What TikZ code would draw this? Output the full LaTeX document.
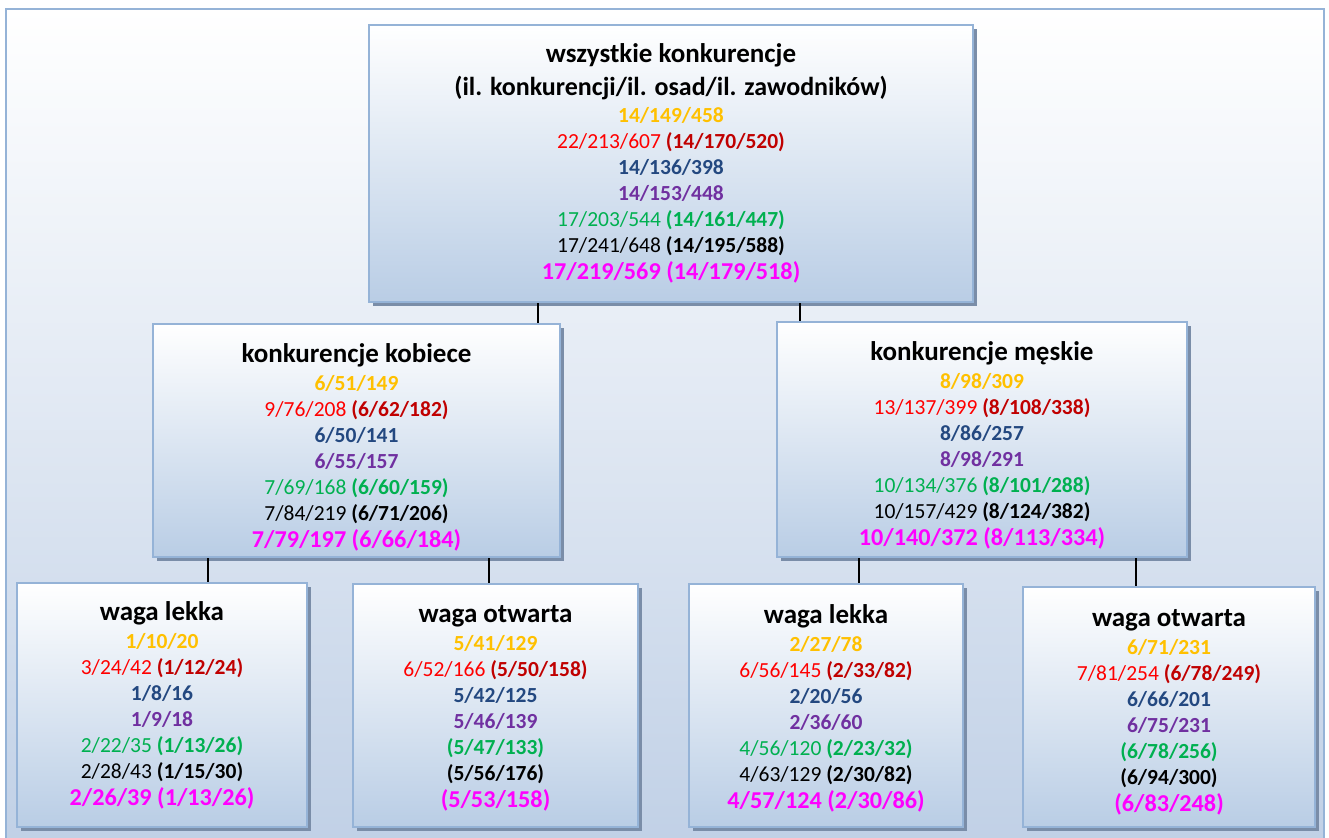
\documentclass[tikz,border=0pt]{standalone}
\usepackage{fontspec}
\setmainfont{Carlito}
\usepackage{xcolor}
\usetikzlibrary{shadows}

\definecolor{gold}{RGB}{255,192,0}
\definecolor{lightred}{RGB}{255,0,0}
\definecolor{darkred}{RGB}{192,0,0}
\definecolor{numblue}{RGB}{35,72,128}
\definecolor{numpurple}{RGB}{112,48,160}
\definecolor{numgreen}{RGB}{0,176,80}
\definecolor{nummagenta}{RGB}{255,0,255}
\definecolor{boxborder}{RGB}{149,179,215}
\definecolor{boxbottom}{RGB}{185,205,229}
\definecolor{boxshadow}{RGB}{122,141,168}
\definecolor{bgbottom}{RGB}{192,208,230}

\newcommand{\ttl}[2][0pt]{{\fontsize{27}{30}\selectfont\rule{0pt}{#1}\textbf{#2}}}
\newcommand{\bY}[1]{\textcolor{gold}{\textbf{#1}}}
\newcommand{\pR}[2]{\textcolor{lightred}{#1} \textcolor{darkred}{\textbf{#2}}}
\newcommand{\bB}[1]{\textcolor{numblue}{\textbf{#1}}}
\newcommand{\bP}[1]{\textcolor{numpurple}{\textbf{#1}}}
\newcommand{\pG}[2]{\textcolor{numgreen}{#1} \textcolor{numgreen}{\textbf{#2}}}
\newcommand{\bG}[1]{\textcolor{numgreen}{\textbf{#1}}}
\newcommand{\pK}[2]{#1 \textbf{#2}}
\newcommand{\bK}[1]{\textbf{#1}}
\newcommand{\bM}[1]{{\fontsize{24.2}{28}\selectfont\textcolor{nummagenta}{\textbf{#1}}}}

\begin{document}
\begin{tikzpicture}[x=1pt, y=-1pt,
    box/.style={draw=boxborder, line width=2pt, top color=white, bottom color=boxbottom,
      general shadow={fill=boxshadow, shadow xshift=4pt, shadow yshift=-4pt},
      align=center, inner sep=0pt, font=\fontsize{21.5}{26}\selectfont},
    link/.style={line width=1.5pt}]
    \useasboundingbox (0,0) rectangle (1329,837);

    % Background
    \draw[draw=boxborder, line width=2pt, top color=white, bottom color=bgbottom] (6,9) rectangle (1324,850);

    % Top
    \node[box, minimum width=604pt, minimum height=277pt] (all) at (671,163.5)
        {\ttl{wszystkie konkurencje}\\[7pt]
         {\fontsize{26}{30}\selectfont\textbf{(il. konkurencji/il. osad/il. zawodników)}}\\[1pt]
         \bY{14/149/458}\\
         \pR{22/213/607}{(14/170/520)}\\
         \bB{14/136/398}\\
         \bP{14/153/448}\\
         \pG{17/203/544}{(14/161/447)}\\
         \pK{17/241/648}{(14/195/588)}\\[1pt]
         \bM{17/219/569 (14/179/518)}};

    % Middle
    \node[box, minimum width=407pt, minimum height=233pt] (kob) at (356.5,440.5)
        {\ttl[32pt]{konkurencje kobiece}\\[2pt]
         \bY{6/51/149}\\
         \pR{9/76/208}{(6/62/182)}\\
         \bB{6/50/141}\\
         \bP{6/55/157}\\
         \pG{7/69/168}{(6/60/159)}\\
         \pK{7/84/219}{(6/71/206)}\\[1pt]
         \bM{7/79/197 (6/66/184)}};
    \node[box, minimum width=410pt, minimum height=235pt] (mes) at (982,439.5)
        {\ttl[31pt]{konkurencje męskie}\\[2pt]
         \bY{8/98/309}\\
         \pR{13/137/399}{(8/108/338)}\\
         \bB{8/86/257}\\
         \bP{8/98/291}\\
         \pG{10/134/376}{(8/101/288)}\\
         \pK{10/157/429}{(8/124/382)}\\[1pt]
         \bM{10/140/372 (8/113/334)}};

    % Bottom
    \node[box, minimum width=290pt, minimum height=244pt] (kl) at (162,705)
        {\ttl{waga lekka}\\[2pt]
         \bY{1/10/20}\\
         \pR{3/24/42}{(1/12/24)}\\
         \bB{1/8/16}\\
         \bP{1/9/18}\\
         \pG{2/22/35}{(1/13/26)}\\
         \pK{2/28/43}{(1/15/30)}\\[1pt]
         \bM{2/26/39 (1/13/26)}};
    \node[box, minimum width=285pt, minimum height=243pt] (ko) at (495.5,705.5)
        {\ttl[23pt]{waga otwarta}\\[2pt]
         \bY{5/41/129}\\
         \pR{6/52/166}{(5/50/158)}\\
         \bB{5/42/125}\\
         \bP{5/46/139}\\
         \bG{(5/47/133)}\\
         \bK{(5/56/176)}\\[1pt]
         \bM{(5/53/158)}};
    \node[box, minimum width=274pt, minimum height=243pt] (ml) at (826,705.5)
        {\ttl[24pt]{waga lekka}\\[2pt]
         \bY{2/27/78}\\
         \pR{6/56/145}{(2/33/82)}\\
         \bB{2/20/56}\\
         \bP{2/36/60}\\
         \pG{4/56/120}{(2/23/32)}\\
         \pK{4/63/129}{(2/30/82)}\\[1pt]
         \bM{4/57/124 (2/30/86)}};
    \node[box, minimum width=292pt, minimum height=240pt] (mo) at (1169,707)
        {\ttl[27pt]{waga otwarta}\\[2pt]
         \bY{6/71/231}\\
         \pR{7/81/254}{(6/78/249)}\\
         \bB{6/66/201}\\
         \bP{6/75/231}\\
         \bG{(6/78/256)}\\
         \bK{(6/94/300)}\\[1pt]
         \bM{(6/83/248)}};

    % Links
    \coordinate (t1) at ([xshift=-23pt]kob.north east);
    \coordinate (t2) at ([xshift=24pt]mes.north west);
    \coordinate (b1) at ([xshift=56pt]kob.south west);
    \coordinate (b2) at ([xshift=337pt]kob.south west);
    \coordinate (b3) at ([xshift=83pt]mes.south west);
    \coordinate (b4) at ([xshift=360pt]mes.south west);
    \draw[link] (t1 |- all.south) -- (t1);
    \draw[link] (t2 |- all.south) -- (t2);
    \draw[link] (b1) -- (b1 |- kl.north);
    \draw[link] (b2) -- (b2 |- ko.north);
    \draw[link] (b3) -- (b3 |- ml.north);
    \draw[link] (b4) -- (b4 |- mo.north);
\end{tikzpicture}
\end{document}
